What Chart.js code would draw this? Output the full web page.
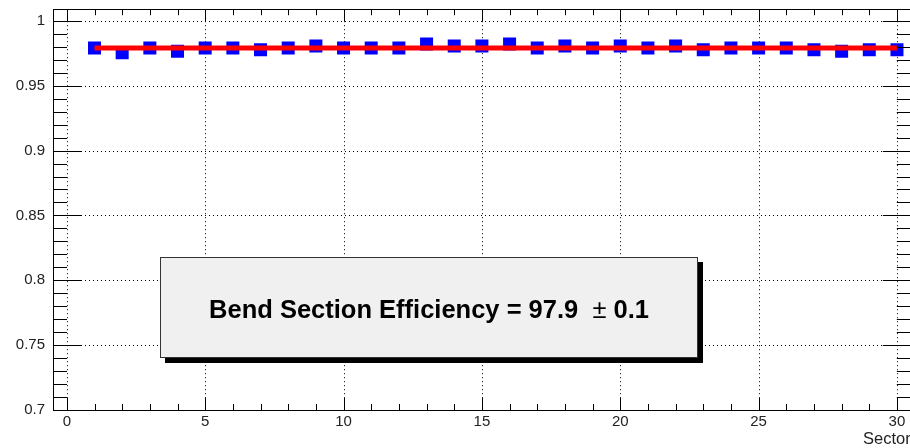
<!DOCTYPE html>
<html>
<head>
<meta charset="utf-8">
<script src="https://cdn.jsdelivr.net/npm/chart.js@4.4.1/dist/chart.umd.min.js"></script>
<style>
  html, body { margin: 0; padding: 0; background: #fff; overflow: hidden; width: 910px; height: 448px; }
  #wrap { width: 920px; height: 448px; }
  canvas { display: block; }
</style>
</head>
<body>
<div id="wrap"><canvas id="chart" width="920" height="448"></canvas></div>
<script>
// Per-sector efficiency of the bend section
const sectors = [1, 2, 3, 4, 5, 6, 7, 8, 9, 10, 11, 12, 13, 14, 15,
                 16, 17, 18, 19, 20, 21, 22, 23, 24, 25, 26, 27, 28, 29, 30];
const efficiency = [0.9790, 0.9755, 0.9790, 0.9766, 0.9790, 0.9790, 0.9778, 0.9790, 0.9806, 0.9790,
                    0.9790, 0.9790, 0.9821, 0.9806, 0.9806, 0.9821, 0.9790, 0.9806, 0.9790, 0.9806,
                    0.9790, 0.9806, 0.9778, 0.9790, 0.9790, 0.9790, 0.9778, 0.9766, 0.9778, 0.9778];

// Constant fit over the sector range
const fitRange = [1, 30];
const fitEfficiency = 0.979;
const fitError = 0.001;

// Axis ticks
const xTicks = [0, 5, 10, 15, 20, 25, 30];
const xTickLabels = ['0', '5', '10', '15', '20', '25', '30'];
const yTicks = [0.7, 0.75, 0.8, 0.85, 0.9, 0.95, 1];
const yTickLabels = ['0.7', '0.75', '0.8', '0.85', '0.9', '0.95', '1'];
const xAxisTitle = 'Sector';
const statsLabel = 'Bend Section Efficiency';

const FONT = '"Liberation Sans", Arial, Helvetica, sans-serif';
const X_MIN = -0.5, X_MAX = 30.5, Y_MIN = 0.7, Y_MAX = 1.009;
const X_MINOR = 1, Y_MINOR = 0.01;

function range(from, to, step) {
  const out = [];
  const n = Math.round((to - from) / step);
  for (let i = 0; i <= n; i++) out.push(from + i * step);
  return out;
}

// ROOT-style frame: dotted grid, inward ticks on all four sides, stats box
const rootFrame = {
  id: 'rootFrame',
  beforeDatasetsDraw(chart) {
    const { ctx, chartArea: a, scales: { x, y } } = chart;
    ctx.save();
    ctx.strokeStyle = '#000';
    ctx.lineWidth = 1;
    ctx.setLineDash([1, 3]);
    ctx.beginPath();
    xTicks.forEach(v => {
      const px = Math.round(x.getPixelForValue(v)) + 0.5;
      ctx.moveTo(px, a.top); ctx.lineTo(px, a.bottom);
    });
    yTicks.forEach(v => {
      const py = Math.round(y.getPixelForValue(v)) + 0.5;
      ctx.moveTo(a.left, py); ctx.lineTo(a.right, py);
    });
    ctx.stroke();
    ctx.restore();
  },
  afterDatasetsDraw(chart) {
    const { ctx, chartArea: a, scales: { x, y } } = chart;
    ctx.save();
    ctx.strokeStyle = '#000';
    ctx.lineWidth = 1;
    ctx.setLineDash([]);
    ctx.beginPath();
    // x ticks, bottom and top
    range(0, 30, X_MINOR).forEach(v => {
      const major = xTicks.some(t => Math.abs(t - v) < 1e-9);
      const len = major ? 12 : 6;
      const px = Math.round(x.getPixelForValue(v)) + 0.5;
      ctx.moveTo(px, a.bottom); ctx.lineTo(px, a.bottom - len);
      ctx.moveTo(px, a.top); ctx.lineTo(px, a.top + len);
    });
    // y ticks, left and right
    range(0.7, 1.0, Y_MINOR).forEach(v => {
      const major = yTicks.some(t => Math.abs(t - v) < 1e-9);
      const len = major ? 28 : 14;
      const py = Math.round(y.getPixelForValue(v)) + 0.5;
      ctx.moveTo(a.left, py); ctx.lineTo(a.left + len, py);
      ctx.moveTo(a.right, py); ctx.lineTo(a.right - len, py);
    });
    ctx.stroke();
    // frame
    ctx.strokeRect(Math.round(a.left) + 0.5, Math.round(a.top) + 0.5,
                   Math.round(a.right - a.left), Math.round(a.bottom - a.top));

    // axis title
    ctx.fillStyle = '#222';
    ctx.font = '16.5px ' + FONT;
    ctx.textAlign = 'left';
    ctx.textBaseline = 'middle';
    ctx.fillText(xAxisTitle, 863, 439);

    // stats box with drop shadow
    const bx = 160, by = 257, bw = 538, bh = 101, sh = 5;
    ctx.fillStyle = '#000';
    ctx.fillRect(bx + sh, by + sh, bw, bh);
    ctx.fillStyle = '#f0f0f0';
    ctx.fillRect(bx, by, bw, bh);
    ctx.strokeStyle = '#333';
    ctx.strokeRect(bx + 0.5, by + 0.5, bw - 1, bh - 1);

    const part1 = statsLabel + ' = ' + (fitEfficiency * 100).toFixed(1) + '  ';
    const part2 = '\u00b1';
    const part3 = ' ' + (fitError * 100).toFixed(1);
    const bold = 'bold 25.5px ' + FONT, plain = '25.5px ' + FONT;
    ctx.font = bold; const w1 = ctx.measureText(part1).width, w3 = ctx.measureText(part3).width;
    ctx.font = plain; const w2 = ctx.measureText(part2).width;
    let tx = bx + bw / 2 - (w1 + w2 + w3) / 2;
    const ty = by + bh / 2 + 10;
    ctx.fillStyle = '#000';
    ctx.textBaseline = 'alphabetic';
    ctx.font = bold; ctx.fillText(part1, tx, ty); tx += w1;
    ctx.font = plain; ctx.fillText(part2, tx, ty); tx += w2;
    ctx.font = bold; ctx.fillText(part3, tx, ty);
    ctx.restore();
  }
};

new Chart(document.getElementById('chart'), {
  type: 'scatter',
  data: {
    datasets: [
      {
        type: 'line',
        data: fitRange.map(v => ({ x: v, y: fitEfficiency })),
        borderColor: '#ff0000',
        borderWidth: 5,
        borderCapStyle: 'butt',
        pointRadius: 0,
        fill: false,
        order: 0
      },
      {
        type: 'scatter',
        data: sectors.map((s, i) => ({ x: s, y: efficiency[i] })),
        pointStyle: 'rect',
        pointRadius: 9.2,
        pointHoverRadius: 9.2,
        backgroundColor: '#0000ff',
        borderWidth: 0,
        order: 1
      }
    ]
  },
  options: {
    responsive: false,
    animation: false,
    devicePixelRatio: 1,
    layout: { padding: { top: 7, right: 6, left: 0, bottom: 0 } },
    plugins: { legend: { display: false }, tooltip: { enabled: false } },
    scales: {
      x: {
        type: 'linear', min: X_MIN, max: X_MAX,
        grid: { display: false, drawTicks: false },
        border: { display: false },
        afterBuildTicks: s => { s.ticks = xTicks.map(v => ({ value: v })); },
        afterFit: s => { s.height = 38; s.paddingLeft = 0; s.paddingRight = 0; },
        ticks: {
          padding: 3, color: '#222', autoSkip: false, maxRotation: 0,
          font: { family: FONT, size: 15 },
          callback: (v, i) => xTickLabels[i]
        }
      },
      y: {
        type: 'linear', min: Y_MIN, max: Y_MAX,
        grid: { display: false, drawTicks: false },
        border: { display: false },
        afterBuildTicks: s => { s.ticks = yTicks.map(v => ({ value: v })); },
        afterFit: s => { s.width = 53; s.paddingTop = 0; s.paddingBottom = 0; },
        ticks: {
          padding: 8, color: '#222', autoSkip: false,
          font: { family: FONT, size: 15 },
          callback: (v, i) => yTickLabels[i]
        }
      }
    }
  },
  plugins: [rootFrame]
});
</script>
</body>
</html>
